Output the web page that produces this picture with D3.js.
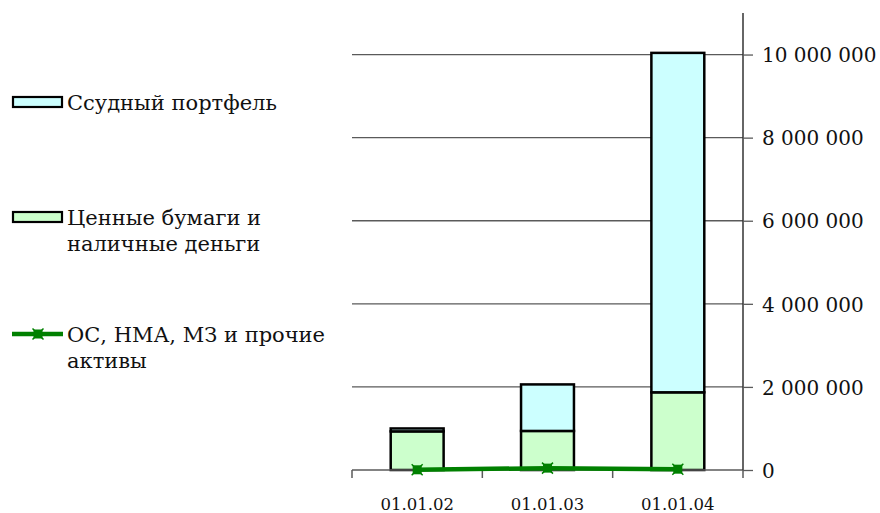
<!DOCTYPE html>
<html>
<head>
<meta charset="utf-8">
<script src="https://cdn.jsdelivr.net/npm/d3@7"></script>
<style>
  html, body { margin: 0; padding: 0; background: #fff; }
  svg { display: block; }
  text { font-family: "DejaVu Serif", serif; fill: #111; }
</style>
</head>
<body>
<svg id="chart" width="880" height="513"></svg>
<script>
// Balance sheet structure by reporting date
const categories = ["01.01.02", "01.01.03", "01.01.04"];
const securitiesCash = [930000, 940000, 1870000];   // Ценные бумаги и наличные деньги
const loanPortfolio = [70000, 1120000, 8170000];     // Ссудный портфель
const otherAssets = [5000, 45000, 20000];            // ОС, НМА, МЗ и прочие активы
const yTicks = [0, 2000000, 4000000, 6000000, 8000000, 10000000];
const yMax = 11000000;

const legendItems = [
  { kind: "bar", color: "#CCFFFF", lines: ["Ссудный портфель"] },
  { kind: "bar", color: "#CCFFCC", lines: ["Ценные бумаги и", "наличные деньги"] },
  { kind: "line", color: "#008000", lines: ["ОС, НМА, МЗ и прочие", "активы"] }
];

const svg = d3.select("#chart");
const plot = { left: 352, right: 743, top: 13, bottom: 470 };

const x = d3.scaleBand().domain(categories).range([plot.left, plot.right]).paddingInner(0.594).paddingOuter(0.297);
const xCenter = d => x(d) + x.bandwidth() / 2;
const y = d3.scaleLinear().domain([0, yMax]).range([plot.bottom, plot.top]);

// horizontal gridlines
svg.append("g").selectAll("line").data(yTicks.filter(v => v > 0)).join("line")
  .attr("x1", plot.left).attr("x2", plot.right)
  .attr("y1", d => y(d)).attr("y2", d => y(d))
  .attr("stroke", "#5a5a5a").attr("stroke-width", 1.3);

// stacked bars
const stackRows = categories.map((c, i) => ({ cat: c, sec: securitiesCash[i], loan: loanPortfolio[i] }));
const stack = d3.stack().keys(["sec", "loan"])(stackRows);
const fills = { sec: "#CCFFCC", loan: "#CCFFFF" };
stack.forEach(layer => {
  svg.append("g").selectAll("rect").data(layer).join("rect")
    .attr("x", d => x(d.data.cat))
    .attr("width", x.bandwidth())
    .attr("y", d => y(d[1]))
    .attr("height", d => y(d[0]) - y(d[1]))
    .attr("fill", fills[layer.key])
    .attr("stroke", "#000").attr("stroke-width", 2.5);
});

// category axis
const xAxis = svg.append("g").attr("transform", `translate(0,${plot.bottom})`);
xAxis.append("line").attr("x1", plot.left).attr("x2", plot.right)
  .attr("stroke", "#5a5a5a").attr("stroke-width", 1.5);
const xTickPos = d3.range(categories.length + 1).map(i => plot.left + i * (plot.right - plot.left) / categories.length);
xAxis.selectAll("line.tick").data(xTickPos).join("line").attr("class", "tick")
  .attr("x1", d => d).attr("x2", d => d).attr("y1", 0).attr("y2", 8)
  .attr("stroke", "#5a5a5a").attr("stroke-width", 1.5);
xAxis.selectAll("text").data(categories).join("text")
  .attr("x", d => xCenter(d)).attr("y", 40)
  .attr("text-anchor", "middle").style("font-size", "16.5px")
  .text(d => d);

// value axis on the right
const fmt = v => d3.format(",")(v).replace(/,/g, " ");
const yAxis = svg.append("g").attr("transform", `translate(${plot.right},0)`)
  .call(d3.axisRight(y).tickValues(yTicks).tickSize(10).tickPadding(9).tickFormat(fmt));
yAxis.select(".domain").attr("stroke", "#333").attr("stroke-width", 1.5)
  .attr("d", `M0,${plot.top}V${plot.bottom}`);
yAxis.selectAll(".tick line").attr("stroke", "#5a5a5a").attr("stroke-width", 1.3);
yAxis.selectAll(".tick text").style("font-size", "20px")
  .style("font-family", "'DejaVu Serif', serif").attr("fill", "#111").attr("dy", "0.36em");

// line series with markers
const lineGen = d3.line().x((d, i) => xCenter(categories[i])).y(d => y(d));
svg.append("path").datum(otherAssets)
  .attr("d", lineGen).attr("fill", "none")
  .attr("stroke", "#008000").attr("stroke-width", 4.5);

function marker(g, cx, cy, color) {
  g.append("rect").attr("x", cx - 4.5).attr("y", cy - 4.5).attr("width", 9).attr("height", 9).attr("fill", color);
  g.append("path").attr("d", `M${cx - 5.5},${cy - 5.5}L${cx + 5.5},${cy + 5.5}M${cx + 5.5},${cy - 5.5}L${cx - 5.5},${cy + 5.5}`)
    .attr("stroke", color).attr("stroke-width", 1.5);
}
const markers = svg.append("g");
otherAssets.forEach((v, i) => marker(markers, xCenter(categories[i]), y(v), "#008000"));

// legend
const legendY = [102, 217, 334];
const legend = svg.append("g");
legendItems.forEach((item, i) => {
  const cy = legendY[i];
  if (item.kind === "bar") {
    legend.append("rect").attr("x", 13).attr("y", cy - 5).attr("width", 49).attr("height", 10)
      .attr("fill", item.color).attr("stroke", "#000").attr("stroke-width", 2.2);
  } else {
    legend.append("line").attr("x1", 12).attr("x2", 63).attr("y1", cy).attr("y2", cy)
      .attr("stroke", item.color).attr("stroke-width", 4.5);
    marker(legend, 38, cy, item.color);
  }
  const t = legend.append("text").attr("x", 67).attr("y", cy + 8).style("font-size", "21px");
  item.lines.forEach((ln, j) => {
    t.append("tspan").attr("x", 67).attr("dy", j === 0 ? 0 : 26).text(ln);
  });
});
</script>
</body>
</html>
